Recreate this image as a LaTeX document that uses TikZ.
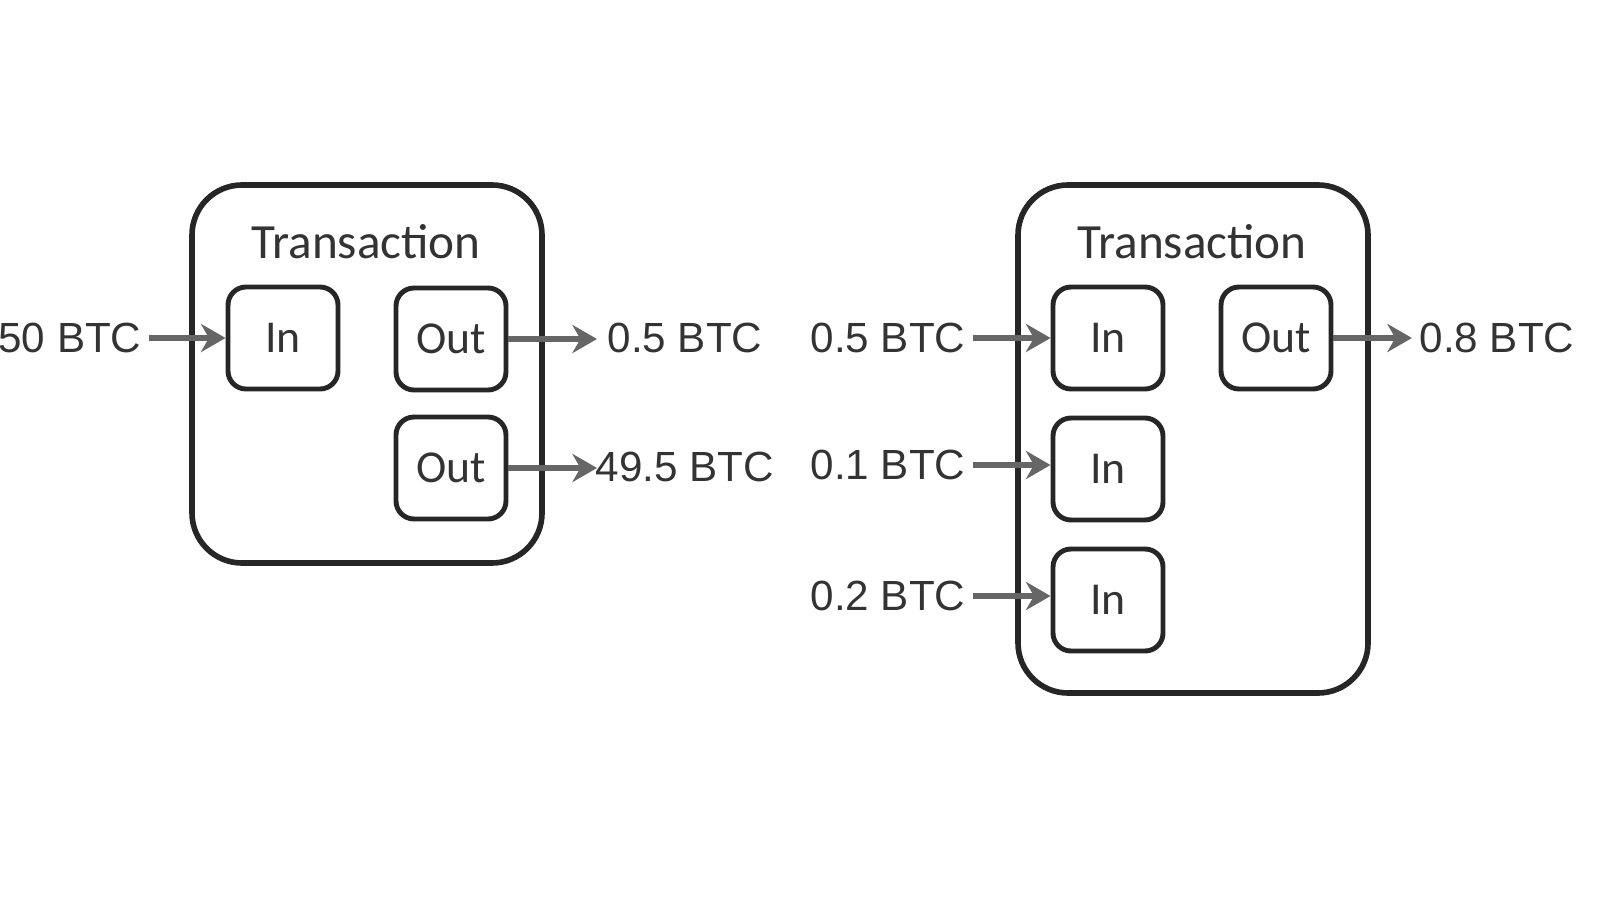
\documentclass[tikz,border=0pt]{standalone}
\usepackage{fontspec}
\setmainfont{Liberation Sans}
\newfontfamily\boxfont{Carlito}
\usetikzlibrary{arrows.meta}
\tikzset{
    txbox/.style={draw=black!85, line width=1.6pt, rounded corners=0.5cm,
        minimum width=3.5cm, anchor=center},
    port/.style={draw=black!85, line width=1.4pt, rounded corners=0.18cm,
        minimum width=1.1cm, minimum height=1.02cm, font=\boxfont\fontsize{13}{15}\selectfont, text=black!80},
    amount/.style={font=\fontsize{12}{14}\selectfont, text=black!80, inner sep=2pt},
    flow/.style={draw=black!60, line width=1.5pt, -{Stealth[length=7pt,width=8pt]}},
    title/.style={font=\boxfont\fontsize{14}{16}\selectfont, text=black!80}
}
\begin{document}
\begin{tikzpicture}
    \useasboundingbox (0,0) rectangle (16,9);

    % first transaction
    \node[txbox, minimum height=3.78cm] (txa) at (3.67,5.26) {};
    \node[title] (titlea) at (3.66,6.58) {Transaction};
    \node[port] (ina) at (2.83,5.62) {In};
    \node[port] (outa) at (4.51,5.61) {Out};
    \node[port] (outb) at (4.51,4.32) {Out};
    \node[amount] (suma) at (0.70,5.62) {50 BTC};
    \node[amount] (paya) at (6.85,5.62) {0.5 BTC};
    \node[amount] (chga) at (6.85,4.33) {49.5 BTC};
    \coordinate (enda) at (5.97,5.61);
    \coordinate (endb) at (5.97,4.32);

    \draw[flow] (suma) -- (ina);
    \draw[flow] (outa) -- (enda);
    \draw[flow] (outb) -- (endb);

    % second transaction
    \node[txbox, minimum height=5.08cm] (txb) at (11.93,4.61) {};
    \node[title] (titleb) at (11.92,6.58) {Transaction};
    \foreach \name/\y in {inb/5.62, inc/4.31, ind/3.00}
    {
        \node[port] (\name) at (11.08,\y) {In};
    }
    \node[port] (outc) at (12.76,5.62) {Out};
    \node[amount] (sumb) at (8.88,5.62) {0.5 BTC};
    \node[amount] (sumc) at (8.88,4.35) {0.1 BTC};
    \node[amount] (sumd) at (8.88,3.04) {0.2 BTC};
    \node[amount] (payb) at (14.97,5.62) {0.8 BTC};

    \draw[flow] (sumb) -- (inb);
    \draw[flow] (sumc.east) -- (sumc.east -| inc.west);
    \draw[flow] (sumd.east) -- (sumd.east -| ind.west);
    \draw[flow] (outc) -- (payb);

\end{tikzpicture}
\end{document}
